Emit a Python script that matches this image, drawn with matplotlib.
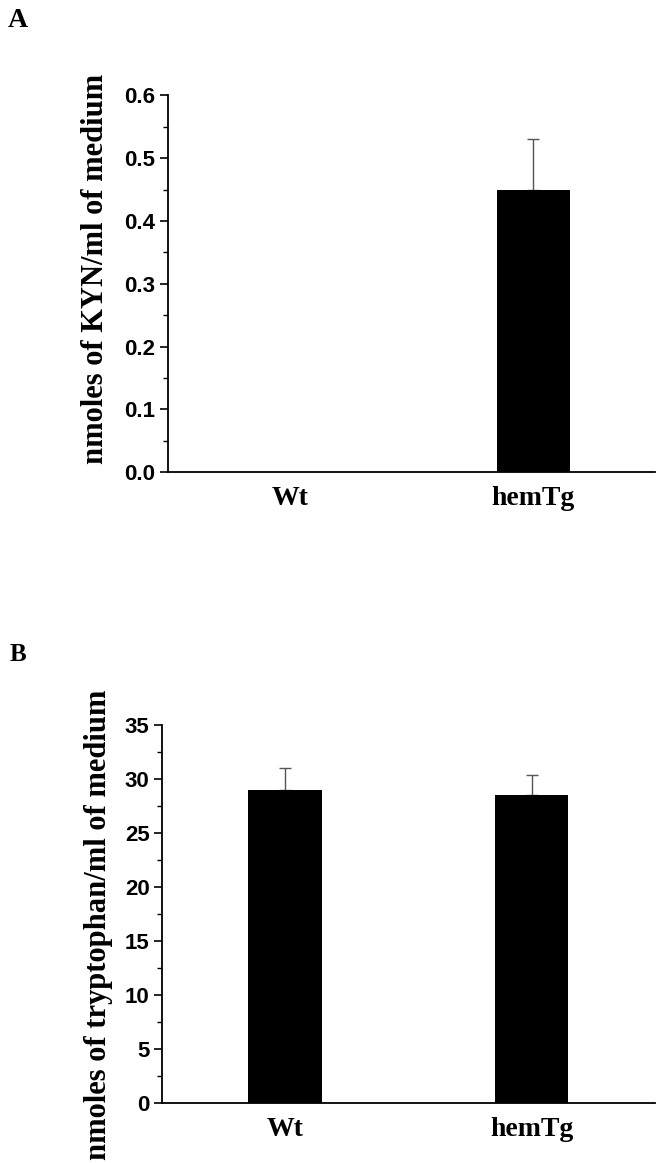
import matplotlib
matplotlib.use("Agg")
import matplotlib.pyplot as plt
from matplotlib.ticker import MultipleLocator

# ==========================================================
# DATA
# ==========================================================

groups = ["Wt", "hemTg"]

kyn_mean = [0.0, 0.45]
kyn_err = [0.0, 0.08]

trp_mean = [29.0, 28.5]
trp_err = [2.0, 1.9]

# ==========================================================
# FIGURE
# ==========================================================

fig = plt.figure(figsize=(6.64, 11.63), dpi=100)

ax_a = fig.add_axes([0.253, 0.594, 0.733, 0.324])
ax_b = fig.add_axes([0.244, 0.0516, 0.742, 0.325])

serif = ["Liberation Serif", "DejaVu Serif"]
sans = ["Liberation Sans", "DejaVu Sans"]


def style_axis(ax, ylim, major, minor, ylabel, fmt, label_xy):
    pos = list(range(1, len(groups) + 1))
    ax.set_xlim(0.5, 2.5)
    ax.set_ylim(*ylim)
    ax.set_xticks(pos)
    ax.set_xticklabels(groups, fontsize=20, fontweight="bold", family=serif)
    ax.tick_params(axis="x", length=0, pad=10)
    ax.yaxis.set_major_locator(MultipleLocator(major))
    ax.yaxis.set_minor_locator(MultipleLocator(minor))
    ax.tick_params(axis="y", which="major", length=6, width=1.2, direction="out", pad=3)
    ax.tick_params(axis="y", which="minor", length=3.5, width=1.0, direction="out")
    ax.set_yticklabels([fmt.format(v) for v in ax.get_yticks()],
                       fontsize=16, fontweight="bold", family=sans)
    ax.set_ylabel(ylabel, fontsize=22, fontweight="bold", family=serif)
    ax.yaxis.set_label_coords(*label_xy)
    for side in ["top", "right"]:
        ax.spines[side].set_visible(False)
    for side in ["left", "bottom"]:
        ax.spines[side].set_linewidth(1.3)


# ==========================================================
# PANEL A
# ==========================================================

pos = list(range(1, len(groups) + 1))

ax_a.bar(pos, kyn_mean, width=0.3, color="black", zorder=2)
ax_a.errorbar(pos[1:], kyn_mean[1:], yerr=[[0], kyn_err[1:]], fmt="none",
              ecolor="#555555", elinewidth=1.0, capsize=4, capthick=1.0, zorder=1)
ax_a.set_yticks([0.0, 0.1, 0.2, 0.3, 0.4, 0.5, 0.6])
style_axis(ax_a, (0, 0.6), 0.1, 0.05, "nmoles of KYN/ml of medium", "{:.1f}",
           (-0.120, 0.54))

# ==========================================================
# PANEL B
# ==========================================================

ax_b.bar(pos, trp_mean, width=0.3, color="black", zorder=2)
ax_b.errorbar(pos, trp_mean, yerr=[[0, 0], trp_err], fmt="none",
              ecolor="#555555", elinewidth=1.0, capsize=4, capthick=1.0, zorder=1)
ax_b.set_yticks([0, 5, 10, 15, 20, 25, 30, 35])
style_axis(ax_b, (0, 35), 5, 2.5, "nmoles of tryptophan/ml of medium", "{:.0f}",
           (-0.100, 0.471))

fig.text(0.012, 0.982, "A", fontsize=20, fontweight="bold", family=serif, va="center")
fig.text(0.015, 0.437, "B", fontsize=18, fontweight="bold", family=serif, va="center")

plt.savefig("out.png", dpi=100)
plt.close()
